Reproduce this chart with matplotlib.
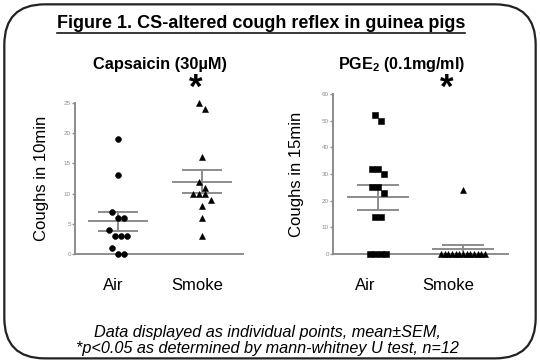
import numpy as np
import matplotlib
matplotlib.use("Agg")
import matplotlib.pyplot as plt
from matplotlib.patches import FancyBboxPatch
from matplotlib.lines import Line2D

plt.rcParams["font.family"] = ["Liberation Sans", "DejaVu Sans"]
plt.rcParams["mathtext.fontset"] = "custom"
plt.rcParams["mathtext.bf"] = "Liberation Sans:bold"
plt.rcParams["mathtext.rm"] = "Liberation Sans"

# data
groups = ["Air", "Smoke"]
caps_air = [19, 13, 7, 6, 6, 4, 3, 3, 3, 1, 0, 0]
caps_smoke = [25, 24, 16, 12, 11, 10, 10, 10, 9, 8, 6, 3]
pge_air = [52, 50, 32, 30, 32, 25, 23, 25, 14, 14, 0, 0, 0, 0]
pge_smoke = [24, 0, 0, 0, 0, 0, 0, 0, 0, 0, 0, 0, 0, 0]

GREY = "#8c8c8c"


def spread(vals, step, tol):
    # column scatter: values closer than tol are put side by side
    vals = np.asarray(vals, float)
    order = np.argsort(-vals, kind="stable")
    offs = np.zeros(len(vals))
    clusters = [[order[0]]]
    for i in order[1:]:
        if vals[clusters[-1][0]] - vals[i] <= tol:
            clusters[-1].append(i)
        else:
            clusters.append([i])
    for c in clusters:
        n = len(c)
        offs[c] = (np.arange(n) - (n - 1) / 2) * step
    return offs


def column(ax, xpos, vals, marker, step=0.068, tol=0.0, ms=4.2):
    vals = np.asarray(vals, float)
    ax.plot(xpos + spread(vals, step, tol), vals, linestyle="none", marker=marker,
            color="black", markersize=ms, markeredgewidth=0.4, clip_on=False, zorder=3)
    m = vals.mean()
    sem = vals.std(ddof=1) / np.sqrt(len(vals))
    ax.plot([xpos - 0.35, xpos + 0.35], [m, m], color=GREY, lw=1.4, zorder=2)
    ax.plot([xpos - 0.23, xpos + 0.23], [m + sem, m + sem], color=GREY, lw=1.4, zorder=2)
    ax.plot([xpos - 0.23, xpos + 0.23], [m - sem, m - sem], color=GREY, lw=1.4, zorder=2)
    ax.plot([xpos, xpos], [m - sem, m + sem], color=GREY, lw=1.4, zorder=2)


def style(ax, ticks):
    for s in ["top", "right"]:
        ax.spines[s].set_visible(False)
    for s in ["left", "bottom"]:
        ax.spines[s].set_color(GREY)
        ax.spines[s].set_linewidth(1.4)
    ax.set_yticks(ticks)
    ax.tick_params(axis="y", labelsize=4.5, colors=GREY, length=2, width=1, pad=1)
    ax.set_xticks([])
    ax.patch.set_alpha(0)


fig = plt.figure(figsize=(5.4, 3.62), dpi=100)

# rounded frame
fig.add_artist(FancyBboxPatch((0.008, 0.01), 0.984, 0.978,
                              boxstyle="round,pad=0,rounding_size=0.075",
                              transform=fig.transFigure, fill=False,
                              edgecolor="#222222", lw=1.6, mutation_aspect=540 / 362))

# left panel: capsaicin
ax1 = fig.add_axes([75 / 540, 1 - 254 / 362, 168 / 540, 151 / 362])
column(ax1, 0, caps_air, "o", tol=1.0)
column(ax1, 1, caps_smoke, "^", tol=1.0, ms=4.4)
ax1.set_xlim(-0.512, 1.488)
ax1.set_ylim(0, 25)
style(ax1, [0, 5, 10, 15, 20, 25])
ax1.set_ylabel("Coughs in 10min", fontsize=12, labelpad=11)

# right panel: PGE2
ax2 = fig.add_axes([333 / 540, 1 - 254 / 362, 175 / 540, 160 / 362])
column(ax2, 0, pge_air, "s", step=0.066, tol=2.5, ms=3.7)
column(ax2, 1, pge_smoke, "^", step=0.043, ms=4.4)
ax2.set_xlim(-0.53, 1.53)
ax2.set_ylim(0, 60)
style(ax2, [0, 10, 20, 30, 40, 50, 60])
ax2.set_ylabel("Coughs in 15min", fontsize=12, labelpad=13)

# group labels
for x, lab in zip([113, 197, 365, 448], groups * 2):
    fig.text(x / 540, 1 - 285 / 362, lab, ha="center", va="center", fontsize=12)

# titles
fig.text(160 / 540, 1 - 65 / 362, "Capsaicin (30µM)", ha="center", va="center",
         fontsize=11.8, fontweight="bold")
fig.text(402 / 540, 1 - 65 / 362, r"PGE$_\mathbf{2}$ (0.1mg/ml)", ha="center", va="center",
         fontsize=11.6, fontweight="bold")
fig.text(196 / 540, 1 - 72 / 362, "*", ha="center", va="top", fontsize=25, fontweight="bold")
fig.text(447 / 540, 1 - 72 / 362, "*", ha="center", va="top", fontsize=25, fontweight="bold")

t = fig.text(261 / 540, 1 - 24 / 362, "Figure 1. CS-altered cough reflex in guinea pigs",
             ha="center", va="center", fontsize=13, fontweight="bold")
fig.canvas.draw()
bb = t.get_window_extent().transformed(fig.transFigure.inverted())
fig.add_artist(Line2D([bb.x0, bb.x1], [bb.y0, bb.y0], color="black", lw=1.1,
                      transform=fig.transFigure))

fig.text(267 / 540, 1 - 332 / 362, "Data displayed as individual points, mean±SEM,",
         ha="center", va="center", fontsize=11.7, style="italic")
fig.text(267 / 540, 1 - 349 / 362, "*p<0.05 as determined by mann-whitney U test, n=12",
         ha="center", va="center", fontsize=11.7, style="italic")

fig.savefig("out.png", dpi=100)
